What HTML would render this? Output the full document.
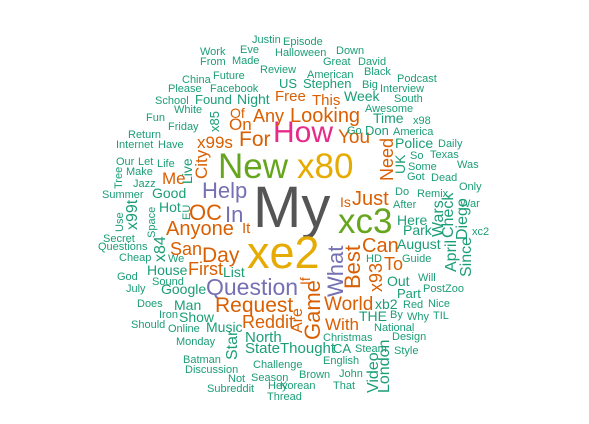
<!DOCTYPE html>
<html><head><meta charset="utf-8"><style>
html,body{margin:0;padding:0;background:#fff;width:589px;height:424px;overflow:hidden}
svg text{font-family:"Liberation Sans",Arial,sans-serif}
</style></head><body>
<svg id="cloud" width="589" height="424" viewBox="0 0 589 424"></svg>
<script>
const words=["My","xe2","x80","New","xc3","How","Question","Help","In","What","OC","Anyone","Request","Game","Best","Day","Just","For","Looking","You","World","Need","x93","First","Reddit","San","Can","x99s","City","With","Any","To","On","Me","Are","Free","This","Of","Is","It","If",
"Night","US","Stephen","Found","Week","Time","Don","Police","Good","Hot","House","Man","Show","Music","North","State","Thought","THE","xb2","Out","Here","Park","August","List","Google","CA","Part","Live","UK","x85",
"Justin","Episode","Work","Eve","Halloween","From","Made","Down","Review","Great","David","American","Black","China","Future","Podcast","Please","Facebook","Big","Interview","School","South","White","Awesome","Fun","x98","Friday","Go","America","Return","Internet","Have","Daily","So","Texas","Was","Some","Got","Dead","Only","Our","Let","Life","Make","Jazz","Summer","Do","Remix","After","War","Secret","Questions","Cheap","We","God","Sound","July","Does","Iron","Should","Online","Monday","Batman","Discussion","Challenge","Not","Season","Brown","Subreddit","Hey","Korean","Thread","John","That","English","Christmas","Steam","Style","Design","National","By","Why","TIL","Red","Nice","PostZoo","Will","HD","Guide","xc2","Tree","EU","Space","Use","x99t","x84","Star","Video","London","Wars","Check","Diego","April","Since"];
const counts=[58,45,35,35,35,30,23,22,22,22,22,20,21,22,22,21,20,21,20,19,19,18,18,18,18,18,20,17,17,17,18,18,17,17,16,15,15,14,14,15,14,
14,13,13,13,14,14,13,14,14,14,14,14,14,14,15,15,15,14,14,14,14,14,14,14,14,13,13,14,14,13,
11,11,11,11,11,11,11,11,11,11,11,11,11,11,11,11,11,11,11,11,11,11,11,11,11,11,11,11,11,11,11,11,11,11,11,11,11,11,11,11,11,11,11,11,11,11,11,11,11,11,11,11,11,11,11,11,11,11,11,11,11,11,11,11,11,11,11,11,11,11,11,11,11,11,11,11,11,11,11,11,11,11,11,11,11,11,11,11,11,11,11,11,11,11];
const groups=["gray","gold","gold","lime","lime","pink","purple","purple","purple","purple","orange","orange","orange","orange","orange","orange","orange","orange","orange","orange","orange","orange","orange","orange","orange","orange","orange","orange","orange","orange","orange","orange","orange","orange","orange","orange","orange","orange","orange","orange","orange"];
// layout from the cloud placement (x, baseline y, rotated)
const layout=[[253,227,0],[247,268,0],[297,178,0],[218,178,0],[338,233,0],[273,142,0],[206,295,0],[202,198,0],[225,222,0],[343,297,1],[189,220,0],[166,235,0],[215,312,0],[320,340,1],[360,289,1],[202,262,0],[352,205,0],[239,146,0],[290,122,0],[338,143,0],[324,310,0],[393,181,1],[382,292,1],[188,275,0],[242,328,0],[170,255,0],[362,252,0],[197,148,0],[207,179,1],[325,330,0],[253,122,0],[384,270,0],[229,130,0],[162,184,0],[302,333,1],[275,101,0],[312,105,0],[230,118,0],[340,207,0],[242,233,0],[310,285,1],
[237,104,0],[279,88,0],[303,88,0],[195,104,0],[344,101,0],[373,123,0],[365,135,0],[395,148,0],[152,198,0],[159,212,0],[147,275,0],[174,310,0],[179,322,0],[206,332,0],[245,342,0],[245,353,0],[280,353,0],[359,321,0],[375,309,0],[387,286,0],[397,225,0],[403,235,0],[397,249,0],[223,277,0],[161,294,0],[333,353,0],[397,298,0],[192,184,1],[405,174,1],[219,132,1],
[252,43,0],[283,45,0],[200,55,0],[240,53,0],[275,56,0],[200,65,0],[232,64,0],[336,54,0],[260,73,0],[323,65,0],[358,65,0],[307,78,0],[364,75,0],[182,83,0],[213,79,0],[397,82,0],[168,92,0],[210,92,0],[362,88,0],[380,92,0],[155,104,0],[394,102,0],[174,113,0],[365,112,0],[146,121,0],[413,124,0],[168,130,0],[347,134,0],[393,135,0],[128,138,0],[116,148,0],[158,148,0],[438,147,0],[410,159,0],[430,158,0],[457,168,0],[408,170,0],[407,180,0],[431,181,0],[459,190,0],[116,165,0],[138,165,0],[157,167,0],[126,175,0],[133,187,0],[102,198,0],[395,195,0],[417,197,0],[393,208,0],[460,207,0],[103,242,0],[98,250,0],[119,261,0],[168,262,0],[117,280,0],[152,285,0],[126,292,0],[137,307,0],[159,318,0],[131,328,0],[168,332,0],[176,345,0],[183,363,0],[185,373,0],[253,368,0],[228,382,0],[251,381,0],[299,378,0],[207,392,0],[268,389,0],[280,389,0],[267,400,0],[339,377,0],[333,389,0],[323,364,0],[323,341,0],[355,352,0],[394,354,0],[392,340,0],[374,331,0],[390,318,0],[407,320,0],[433,319,0],[403,308,0],[428,307,0],[423,292,0],[418,281,0],[366,262,0],[402,262,0],[472,235,0],[122,189,1],[190,220,1],[155,238,1],[123,232,1],[137,230,1],[165,262,1],[237,360,1],[378,393,1],[389,393,1],[443,237,1],[453,238,1],[467,240,1],[456,272,1],[471,277,1]];
const palette={gray:"#555555",gold:"#e6ab02",lime:"#66a61e",pink:"#e7298a",purple:"#7570b3",orange:"#d95f02",green:"#1b9e77"};
const svg=document.getElementById('cloud');
const NS="http://www.w3.org/2000/svg";
for(let i=0;i<words.length;i++){
  const p=layout[i]; if(!p) continue;
  const t=document.createElementNS(NS,'text');
  
  
  t.setAttribute('font-size',counts[i]);
  t.setAttribute('fill',palette[groups[i]||'green']);
  if(p[2]){t.setAttribute('transform','translate('+p[0]+','+p[1]+') rotate(-90)');}
  else{t.setAttribute('x',p[0]);t.setAttribute('y',p[1]);}
  t.textContent=words[i];
  svg.appendChild(t);
}
</script>
</body></html>
